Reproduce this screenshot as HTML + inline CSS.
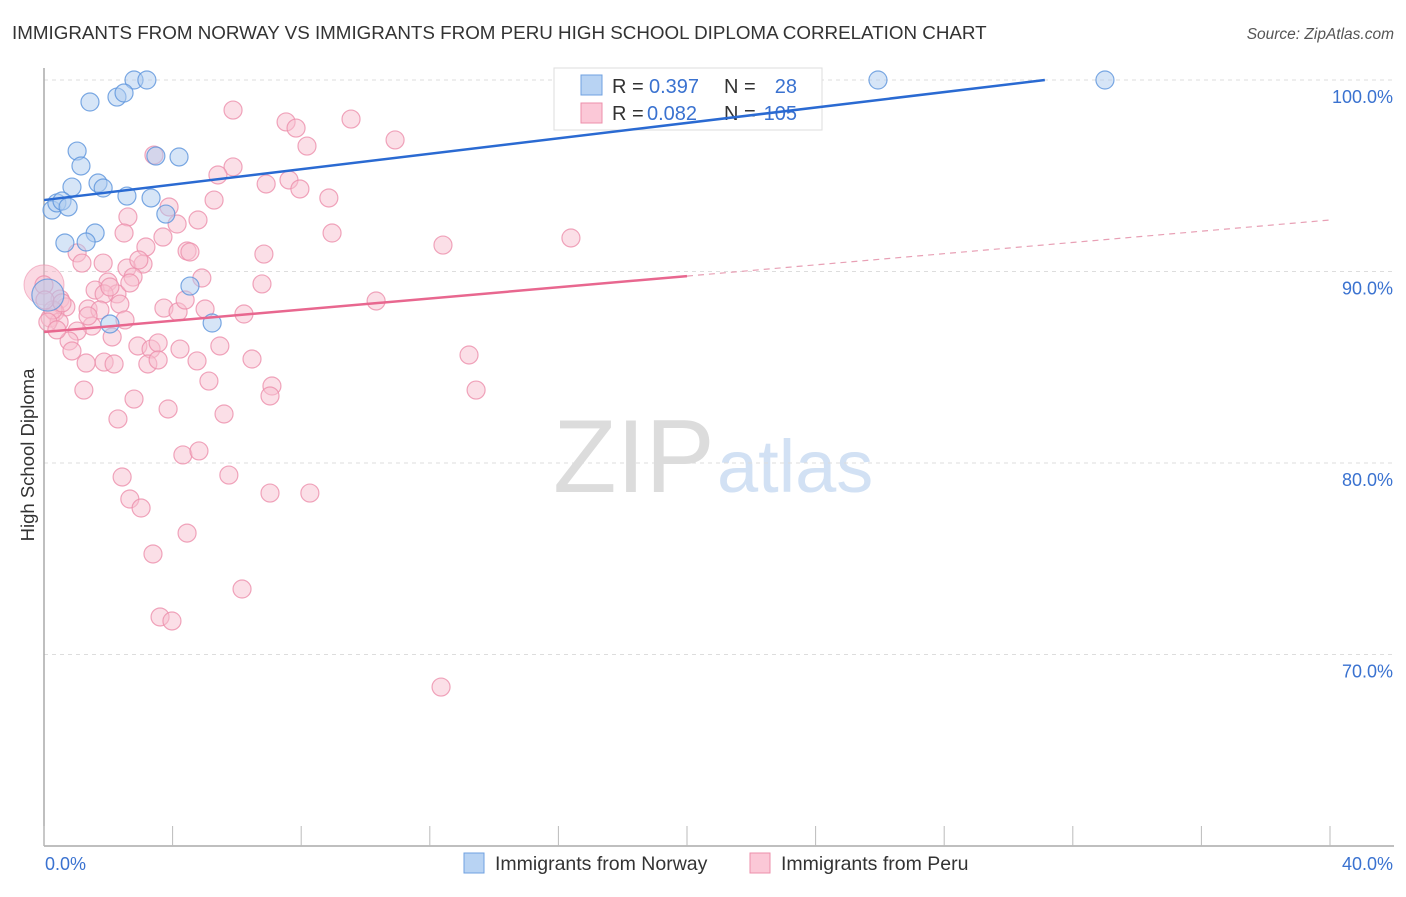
<!DOCTYPE html>
<html><head><meta charset="utf-8"><style>
body{margin:0;background:#fff;font-family:"Liberation Sans",sans-serif}
svg text{font-family:"Liberation Sans",sans-serif}
</style></head><body>
<svg id="chart" width="1406" height="892" viewBox="0 0 1406 892" xmlns="http://www.w3.org/2000/svg">
<text x="12" y="39" font-size="18.8" fill="#333">IMMIGRANTS FROM NORWAY VS IMMIGRANTS FROM PERU HIGH SCHOOL DIPLOMA CORRELATION CHART</text>
<text x="1394" y="39" font-size="15.5" fill="#555" font-style="italic" text-anchor="end">Source: ZipAtlas.com</text>
<g>
<text x="553" y="492" font-family="Liberation Serif,serif" font-size="104" fill="#dcdcdc">ZIP</text>
<text x="717" y="492" font-size="74" fill="#d2e1f4">atlas</text>
</g>
<g id="grid"></g>
<g id="axes"></g>
<g id="trend"></g>
<g id="pts"></g>
<text transform="translate(34,455) rotate(-90)" font-size="18.5" fill="#333" text-anchor="middle">High School Diploma</text>
<g>
<rect x="554" y="68" width="268" height="62" fill="#fff" stroke="#ddd"/>
<rect x="581" y="75" width="21" height="20" fill="#b8d3f3" stroke="#6fa0e0"/>
<rect x="581" y="103" width="21" height="20" fill="#fbc8d7" stroke="#ec8fab"/>
<text x="612" y="93" font-size="20" fill="#333">R = </text><text x="649" y="93" font-size="20" fill="#3a72d0">0.397</text>
<text x="724" y="93" font-size="20" fill="#333">N = </text><text x="797" y="93" font-size="20" fill="#3a72d0" text-anchor="end">28</text>
<text x="612" y="120" font-size="20" fill="#333">R = </text><text x="647" y="120" font-size="20" fill="#3a72d0">0.082</text>
<text x="724" y="120" font-size="20" fill="#333">N = </text><text x="797" y="120" font-size="20" fill="#3a72d0" text-anchor="end">105</text>
</g>
<g>
<rect x="464" y="853" width="20" height="20" fill="#b8d3f3" stroke="#6fa0e0"/>
<text x="495" y="870" font-size="19.5" fill="#333">Immigrants from Norway</text>
<rect x="750" y="853" width="20" height="20" fill="#fbc8d7" stroke="#ec8fab"/>
<text x="781" y="870" font-size="19.5" fill="#333">Immigrants from Peru</text>
</g>
</svg>
<script>
const xTicks=[0,4,8,12,16,20,24,28,32,36,40];
const yTicks=[100,90,80,70];
const yTickLabels=["100.0%","90.0%","80.0%","70.0%"];
const norwayX=[2.80,3.20,25.94,33.0,1.43,2.27,2.49,1.03,3.48,4.20,1.15,0.87,1.68,1.84,2.58,3.33,0.25,0.40,0.56,0.75,3.79,1.59,0.65,1.31,4.54,2.05,5.23,0.12];
const norwayY=[100,100,100,100,98.85,99.11,99.32,96.29,96.03,95.98,95.51,94.41,94.62,94.36,93.94,93.84,93.21,93.58,93.68,93.37,93.0,92.01,91.49,91.54,89.24,87.26,87.31,88.77];
const norwayW=[1,1,1,1,1,1,1,1,1,1,1,1,1,1,1,1,1,1,1,1,1,1,1,1,1,1,1,3];
const peruX=[5.88,7.53,7.84,9.55,10.92,8.18,3.42,5.88,5.41,6.91,7.62,7.96,8.86,5.29,3.89,2.61,4.79,4.14,2.49,3.70,8.96,3.17,12.41,16.39,4.45,4.54,6.84,1.03,1.18,1.84,2.58,3.08,2.95,4.91,1.99,2.77,6.78,1.59,2.27,1.87,0.50,0.68,1.37,1.74,2.36,3.73,4.17,5.01,6.22,10.33,0.34,0.19,0.47,1.49,1.03,2.12,0.78,0.87,2.92,3.33,3.55,4.23,5.47,1.87,1.31,2.18,3.23,3.55,4.76,6.47,13.22,5.13,1.24,7.09,7.03,13.44,2.80,3.86,5.60,2.30,4.32,4.82,5.75,2.43,7.03,8.27,2.67,3.02,4.45,3.39,6.16,3.61,3.98,12.35,0.0,0.28,0.12,0.40,0.03,0.56,2.05,2.67,1.37,2.52,4.39];
const peruY=[98.43,97.81,97.49,97.96,96.87,96.55,96.08,95.46,95.04,94.57,94.78,94.31,93.84,93.73,93.37,92.85,92.69,92.48,92.01,91.80,92.01,91.28,91.38,91.75,91.07,91.02,90.91,90.97,90.44,90.44,90.18,90.39,90.60,89.66,89.45,89.71,89.35,89.03,88.83,88.83,88.56,88.15,88.04,87.99,88.30,88.09,87.89,88.04,87.78,88.46,87.89,87.57,87.36,87.15,86.89,86.58,86.37,85.85,86.11,85.95,86.27,85.95,86.11,85.27,85.22,85.17,85.17,85.38,85.33,85.43,85.64,84.28,83.81,84.02,83.50,83.81,83.34,82.82,82.56,82.30,80.42,80.63,79.37,79.27,78.43,78.43,78.12,77.65,76.34,75.25,73.42,71.96,71.75,68.30,89.30,87.99,87.36,86.95,88.51,88.36,89.19,89.40,87.68,87.47,88.51];
const norwayTrend=[[0,93.73],[31.13,100]];
const peruTrendSolid=[[0,86.84],[20,89.76]];
const peruTrendDash=[[20,89.76],[40,92.69]];
const NS="http://www.w3.org/2000/svg";
const X=v=>44+v*32.15, Y=v=>80+(100-v)*19.15;
function mk(tag,attrs,parent){const e=document.createElementNS(NS,tag);for(const k in attrs)e.setAttribute(k,attrs[k]);parent.appendChild(e);return e;}
const grid=document.getElementById('grid'),axes=document.getElementById('axes'),trend=document.getElementById('trend'),pts=document.getElementById('pts');
yTicks.forEach((t,i)=>{
 const l=mk('line',{x1:44,x2:1394,y1:Y(t),y2:Y(t),stroke:'#ddd','stroke-dasharray':'4 4'},grid);
 
 
 const tx=mk('text',{x:1393,y:Y(t)+23,'font-size':18,fill:'#3a72d0','text-anchor':'end'},axes);
 tx.textContent=yTickLabels[i];
 
 
});
const ya=mk('line',{x1:44,x2:44,y1:68,y2:846,stroke:'#aaa','stroke-width':1.5},axes);


const xa=mk('line',{x1:44,x2:1394,y1:846,y2:846,stroke:'#aaa','stroke-width':1.5},axes);


xTicks.forEach(t=>{const l=mk('line',{x1:X(t),x2:X(t),y1:826,y2:846,stroke:'#bbb'},axes);
 
 });
const x0=mk('text',{x:45,y:870,'font-size':18,fill:'#3a72d0'},axes);x0.textContent=xTicks[0].toFixed(1)+'%';


const x1=mk('text',{x:1393,y:870,'font-size':18,fill:'#3a72d0','text-anchor':'end'},axes);x1.textContent=xTicks[xTicks.length-1].toFixed(1)+'%';


function drawPts(xs,ys,ws,fill,stroke,name){xs.forEach((v,i)=>{const w=ws?ws[i]:1;
 const c=mk('circle',{cx:X(v),cy:Y(ys[i]),r:w>1?16:9,fill:fill,'fill-opacity':0.5,stroke:stroke,'stroke-opacity':0.8,'stroke-width':1.2},pts);
 
 });}
mk('circle',{cx:X(0),cy:Y(89.3),r:20,fill:'#f7b3c7','fill-opacity':0.5,stroke:'#ec8fab','stroke-opacity':0.6},pts);
drawPts(peruX,peruY,null,'#f8bfd0','#ec8fab','peru-point');
drawPts(norwayX,norwayY,norwayW,'#aecbf0','#5b93dc','norway-point');
const bt=mk('line',{x1:X(norwayTrend[0][0]),y1:Y(norwayTrend[0][1]),x2:X(norwayTrend[1][0]),y2:Y(norwayTrend[1][1]),stroke:'#2a6ad2','stroke-width':2.5},trend);


const pt=mk('line',{x1:X(peruTrendSolid[0][0]),y1:Y(peruTrendSolid[0][1]),x2:X(peruTrendSolid[1][0]),y2:Y(peruTrendSolid[1][1]),stroke:'#e8678f','stroke-width':2.5},trend);


const pd=mk('line',{x1:X(peruTrendDash[0][0]),y1:Y(peruTrendDash[0][1]),x2:X(peruTrendDash[1][0]),y2:Y(peruTrendDash[1][1]),stroke:'#e8a0b5','stroke-width':1.2,'stroke-dasharray':'6 5'},trend);


document.getElementById('chart').appendChild(trend);
</script>
</body></html>
